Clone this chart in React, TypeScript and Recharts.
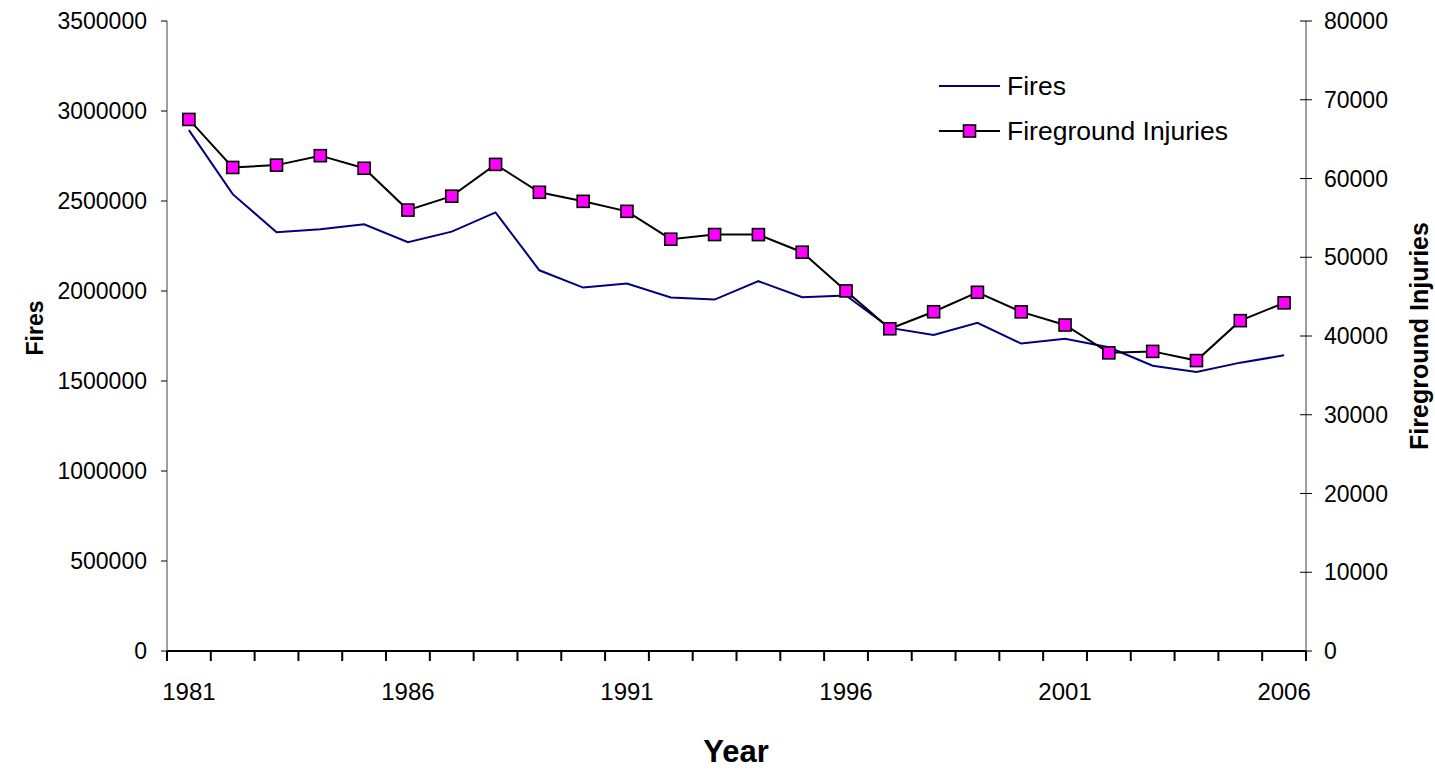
import React from 'react';
import { LineChart, Line, XAxis, YAxis, Legend, Label } from 'recharts';

const years = [1981, 1982, 1983, 1984, 1985, 1986, 1987, 1988, 1989, 1990, 1991, 1992, 1993, 1994, 1995, 1996, 1997, 1998, 1999, 2000, 2001, 2002, 2003, 2004, 2005, 2006];
const fires = [2893500, 2538000, 2326500, 2343000, 2371000, 2271500, 2330000, 2436500, 2115000, 2019000, 2041500, 1964500, 1952500, 2054500, 1965500, 1975000, 1795000, 1755500, 1823000, 1708000, 1734500, 1687500, 1584500, 1550500, 1602000, 1642500];
const injuries = [67500, 61400, 61700, 62900, 61300, 55990, 57755, 61790, 58250, 57100, 55830, 52290, 52885, 52875, 50640, 45725, 40920, 43080, 45550, 43065, 41395, 37860, 38045, 36880, 41950, 44210];

const yearLabels = [1981, 1986, 1991, 1996, 2001, 2006];
const leftTicks = [0, 500000, 1000000, 1500000, 2000000, 2500000, 3000000, 3500000];
const rightTicks = [0, 10000, 20000, 30000, 40000, 50000, 60000, 70000, 80000];

const data = years.map((year, i) => ({ year, fires: fires[i], injuries: injuries[i] }));
const boundaryTicks = years.map((y) => y - 0.5).concat([years[years.length - 1] + 0.5]);
const xTicks = [...boundaryTicks, ...yearLabels].sort((a, b) => a - b);

const FONT = '"Liberation Sans", Arial, sans-serif';

const XTick = (props: any) => {
  const { x, y, payload } = props;
  const v = payload.value;
  if (!Number.isInteger(v)) {
    return <line x1={x} x2={x} y1={y} y2={y + 10} stroke="#000" strokeWidth={2} />;
  }
  return (
    <text x={x} y={y + 49} textAnchor="middle" fontSize={24} fontFamily={FONT} fill="#000">
      {v}
    </text>
  );
};

const LeftTick = (props: any) => {
  const { x, y, payload } = props;
  return (
    <text x={x} y={y} textAnchor="end" dominantBaseline="central" fontSize={23} fontFamily={FONT} fill="#000">
      {payload.value}
    </text>
  );
};

const RightTick = (props: any) => {
  const { x, y, payload } = props;
  const axisX = x - 18;
  return (
    <g>
      <line x1={axisX - 6} x2={axisX} y1={y} y2={y} stroke="#000" strokeWidth={1} />
      <text x={x} y={y} textAnchor="start" dominantBaseline="central" fontSize={23} fontFamily={FONT} fill="#000">
        {payload.value}
      </text>
    </g>
  );
};

const SquareDot = (props: any) => {
  const { cx, cy } = props;
  if (cx == null || cy == null) return null;
  return <rect x={cx - 6} y={cy - 6} width={12} height={12} fill="#FF00FF" stroke="#000" strokeWidth={1.6} />;
};

const LegendContent = () => (
  <svg width={330} height={100} style={{ display: 'block' }}>
    <line x1={9} x2={70} y1={27} y2={27} stroke="#000080" strokeWidth={2} />
    <text x={77} y={27} dominantBaseline="central" fontSize={26.5} fontFamily={FONT} fill="#000">Fires</text>
    <line x1={9} x2={70} y1={72} y2={72} stroke="#000" strokeWidth={2} />
    <rect x={33.5} y={66} width={12} height={12} fill="#FF00FF" stroke="#000" strokeWidth={1.6} />
    <text x={77} y={72} dominantBaseline="central" fontSize={26.5} fontFamily={FONT} fill="#000">Fireground Injuries</text>
  </svg>
);

const LeftTitle = () => (
  <text x={35} y={328} transform="rotate(-90, 35, 328)" textAnchor="middle" dominantBaseline="central" fontSize={23} fontWeight="bold" fontFamily={FONT} fill="#000">
    Fires
  </text>
);

const RightTitle = () => (
  <text x={1419} y={336} transform="rotate(-90, 1419, 336)" textAnchor="middle" dominantBaseline="central" fontSize={25} fontWeight="bold" fontFamily={FONT} fill="#000">
    Fireground Injuries
  </text>
);

const BottomTitle = () => (
  <text x={736} y={762} textAnchor="middle" fontSize={31} fontWeight="bold" fontFamily={FONT} fill="#000">
    Year
  </text>
);

export default function App() {
  return (
    <div style={{ position: 'absolute', left: 0, top: 0, background: '#fff' }}>
      <LineChart width={1435} height={771} data={data} margin={{ top: 21, right: 0, bottom: 0, left: 0 }}>
        <XAxis
          dataKey="year"
          type="number"
          domain={[1980.5, 2006.5]}
          ticks={xTicks}
          interval={0}
          tickLine={false}
          tickSize={0}
          tickMargin={0}
          height={120}
          axisLine={{ stroke: '#000', strokeWidth: 2 }}
          tick={<XTick />}
        >
          <Label content={<BottomTitle />} />
        </XAxis>
        <YAxis
          yAxisId="left"
          orientation="left"
          width={167}
          domain={[0, 3500000]}
          ticks={leftTicks}
          interval={0}
          tickSize={6}
          tickMargin={14}
          axisLine={{ stroke: '#404040', strokeWidth: 1 }}
          tickLine={{ stroke: '#000', strokeWidth: 1 }}
          tick={<LeftTick />}
        >
          <Label content={<LeftTitle />} />
        </YAxis>
        <YAxis
          yAxisId="right"
          orientation="right"
          width={129}
          domain={[0, 80000]}
          ticks={rightTicks}
          interval={0}
          tickSize={6}
          tickMargin={12}
          axisLine={{ stroke: '#404040', strokeWidth: 1 }}
          tickLine={{ stroke: '#000', strokeWidth: 1 }}
          tick={<RightTick />}
        >
          <Label content={<RightTitle />} />
        </YAxis>
        <Legend
          layout="vertical"
          align="center"
          verticalAlign="middle"
          content={<LegendContent />}
          wrapperStyle={{ position: 'absolute', left: 930, top: 59, width: 330, height: 100 }}
        />
        <Line yAxisId="left" type="linear" dataKey="fires" stroke="#000080" strokeWidth={2} dot={false} isAnimationActive={false} />
        <Line yAxisId="right" type="linear" dataKey="injuries" stroke="#000" strokeWidth={2} dot={<SquareDot />} isAnimationActive={false} />
      </LineChart>
    </div>
  );
}
